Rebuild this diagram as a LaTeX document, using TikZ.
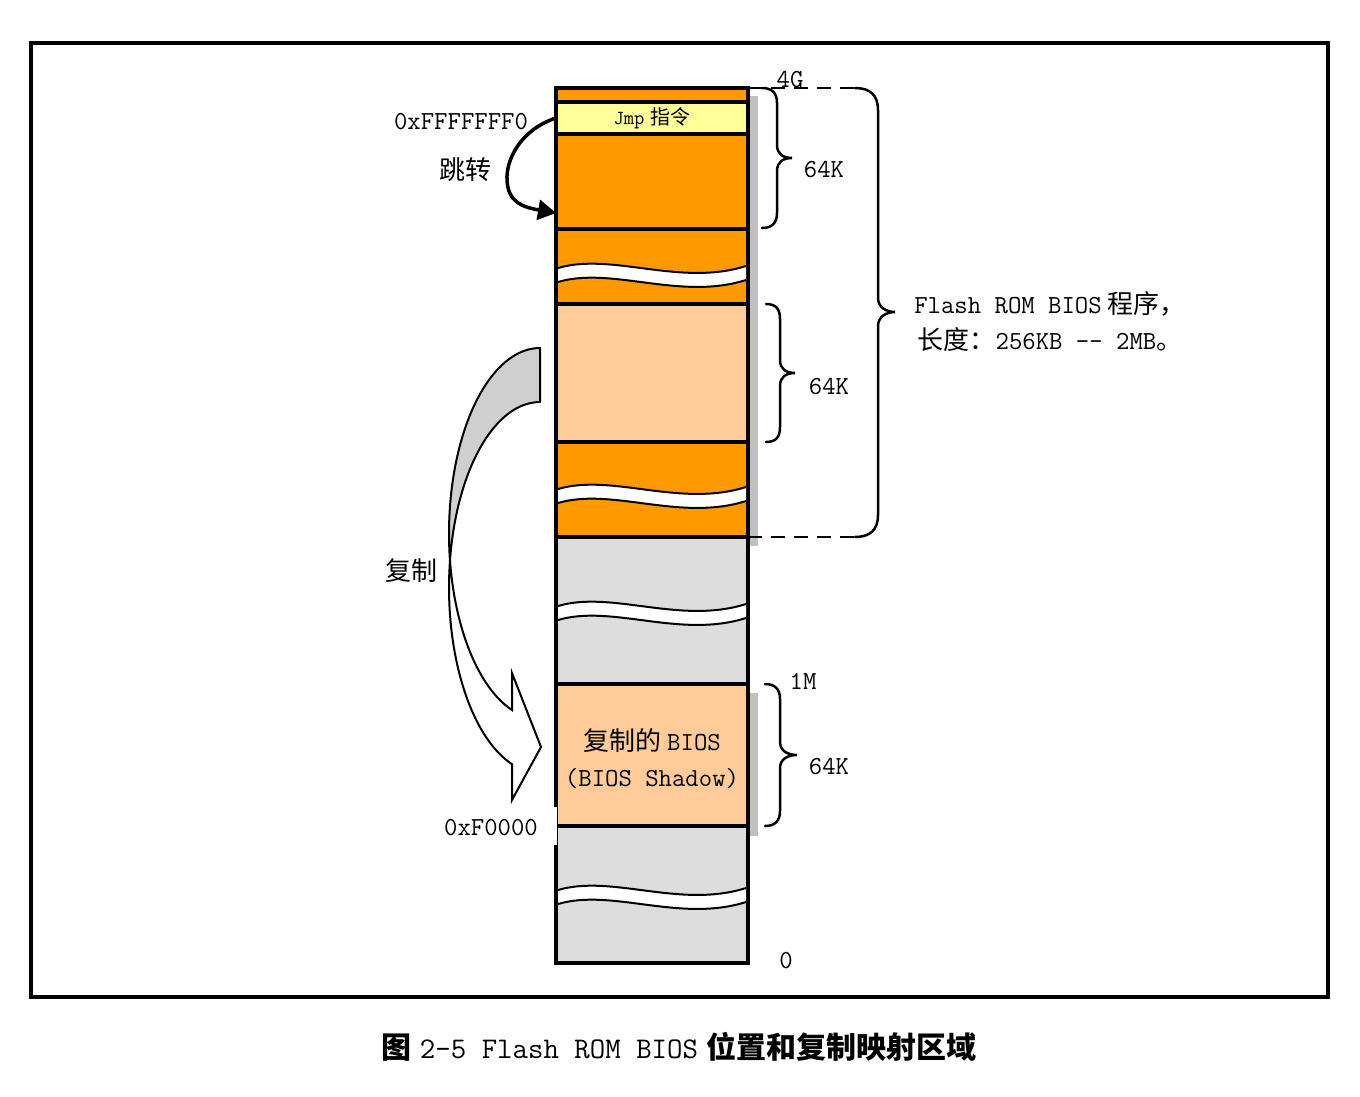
\documentclass[tikz,border=0pt]{standalone}
\usepackage{fontspec}
\newfontfamily\cjk{Noto Sans CJK SC}
\usetikzlibrary{arrows.meta}
\definecolor{borange}{HTML}{FF9900}
\definecolor{lorange}{HTML}{FFCC99}
\definecolor{jyellow}{HTML}{FFFF99}
\definecolor{lgray}{HTML}{DDDDDD}
\definecolor{sgray}{HTML}{C0C0C0}
\definecolor{agray}{HTML}{CFCFCF}
\newcommand{\zh}[1]{{\cjk #1}}
\newcommand{\rbr}[6]{\draw[brc] (#1,#4) .. controls ({#1+10},#4) and (#2,{#4+5}) .. (#2,{#4+15}) -- (#2,{#5-13}) .. controls (#2,{#5-4}) and ({#3-9},#5) .. (#3,#5) .. controls ({#3-9},#5) and (#2,{#5+4}) .. (#2,{#5+13}) -- (#2,{#6-15}) .. controls (#2,{#6-5}) and ({#1+10},#6) .. (#1,#6);}
\begin{document}
\begin{tikzpicture}[x=1pt,y=-1pt,
  blk/.style={draw=black, line width=3.5pt, minimum width=192pt, inner sep=0pt, outer sep=0pt, rectangle},
  lbl/.style={font=\fontsize{26}{36}\selectfont\ttfamily, inner sep=0pt, text=black},
  brc/.style={line width=2.5pt, line cap=round},
  dsh/.style={line width=2.5pt, dash pattern=on 14pt off 9pt},
  wavebreak/.pic={
    \fill[white] (558,0) .. controls (612,-16) and (680,19) .. (746,-2) -- (746,12) .. controls (680,33) and (612,-2) .. (558,14) -- cycle;
    \draw[line width=2pt] (558,0) .. controls (612,-16) and (680,19) .. (746,-2);
    \draw[line width=2pt] (558,14) .. controls (612,-2) and (680,33) .. (746,12);
  }]
\useasboundingbox (0,0) rectangle (1360,1096);
% frame
\draw[line width=4pt] (31,43) rectangle (1328,997);
% shadow strips
\fill[sgray] (748,96) rectangle (758,546);
\fill[sgray] (748,693) rectangle (758,836);
% memory blocks
\node[blk, fill=borange, minimum height=14pt] (btop) at (652,95) {};
\node[blk, fill=jyellow, minimum height=32pt, font=\fontsize{20}{22}\selectfont\ttfamily] (jmp) at (652,118) {Jmp\hspace{6pt}\zh{指令}};
\node[blk, fill=borange, minimum height=95pt] (o3) at (652,181.5) {};
\node[blk, fill=borange, minimum height=75pt] (o4) at (652,266.5) {};
\node[blk, fill=lorange, minimum height=138pt] (lo5) at (652,373) {};
\node[blk, fill=borange, minimum height=95pt] (o6) at (652,489.5) {};
\node[blk, fill=lgray, minimum height=147pt] (g7) at (652,610.5) {};
\node[blk, fill=lorange, minimum height=142pt] (shadow) at (652,755) {};
\node[blk, fill=lgray, minimum height=137pt] (g9) at (652,894.5) {};
% breaks
\pic at (0,268) {wavebreak};
\pic at (0,489) {wavebreak};
\pic at (0,606) {wavebreak};
\pic at (0,890) {wavebreak};
% white notch behind 0xF0000
\fill[white] (552,807) rectangle (557,845);
% braces
\rbr{762}{777}{792}{88}{158}{228}
\rbr{766}{780}{795}{304}{373}{442}
\rbr{765}{780}{797}{684}{755}{826}
\draw[dsh] (748,88) -- (856,88);
\draw[dsh] (748,537) -- (856,537);
\draw[brc] (855,88) .. controls (870,88) and (878,95) .. (878,110) -- (878,298) .. controls (878,307) and (886,312) .. (895,312) .. controls (886,312) and (878,317) .. (878,326) -- (878,515) .. controls (878,530) and (870,537) .. (855,537);
% copy arrow
\filldraw[fill=agray, line width=2pt, line join=round] (540,348) arc[start angle=270, end angle=171.63, x radius=91, y radius=185.6] arc[start angle=188.37, end angle=270, x radius=91, y radius=185.6] -- cycle;
\filldraw[fill=white, line width=2pt, line join=miter] (450,560.6) arc[start angle=188.37, end angle=107.84, x radius=91, y radius=185.6] -- (512,800) -- (541,747) -- (512,673) -- (512,710) arc[start angle=107.94, end angle=171.63, x radius=91, y radius=185.6] -- cycle;
% jump arrow
\coordinate (jt) at (556,213);
\draw[line width=3.5pt, -{Triangle[length=18pt,width=20pt]}] (jmp.west) .. controls (520,130) and (506,160) .. (507,180) .. controls (508,202) and (522,207) .. (jt);
% labels
\node[lbl] (lff) at (461,122) {0xFFFFFFF0};
\node[lbl] (ljump) at (465,170) {\zh{跳转}};
\node[lbl] (l4g) at (790,80) {4G};
\node[lbl] (k1) at (824,170) {64K};
\node[lbl] (k2) at (829,387) {64K};
\node[lbl] (k3) at (829,767) {64K};
\node[lbl, align=center] (flash) at (1050,322) {Flash ROM BIOS\hspace{6pt}\zh{程序，}\\\zh{长度：}256KB -{}- 2MB\zh{。}};
\node[lbl] (lcopy) at (411,571) {\zh{复制}};
\node[lbl, align=center] (lshadow) at (652,759) {\zh{复制的}\hspace{6pt}BIOS\\(BIOS Shadow)};
\node[lbl] (lf0) at (491,828) {0xF0000};
\node[lbl] (l1m) at (803,681) {1M};
\node[lbl] (l0) at (786,961) {0};
\node[font=\fontsize{30}{34}\selectfont\ttfamily, inner sep=0pt] (cap) at (679,1047) {{\cjk\bfseries 图}\hspace{8pt}2-5 Flash ROM BIOS\hspace{8pt}{\cjk\bfseries 位置和复制映射区域}};
\end{tikzpicture}
\end{document}
